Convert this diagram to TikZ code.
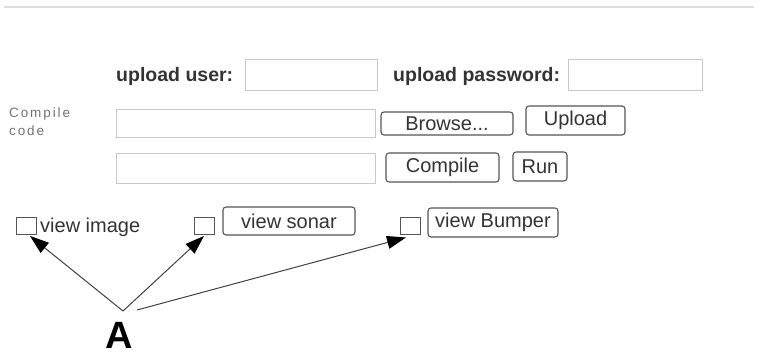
\documentclass[tikz,border=0pt]{standalone}
\usepackage{fontspec}
\setmainfont{Liberation Sans}
\newfontfamily\spacedfont[LetterSpace=14]{Liberation Sans}
\usetikzlibrary{arrows.meta}
\definecolor{fieldgray}{HTML}{C8C8C8}
\definecolor{btngray}{HTML}{555555}
\definecolor{txtgray}{HTML}{333333}
\tikzset{
  field/.style={draw=fieldgray, line width=0.9pt, fill=white, inner sep=0pt},
  btn/.style={draw=btngray, line width=1.1pt, rounded corners=3pt, inner sep=0pt,
    text=txtgray, font=\fontsize{20}{22}\selectfont},
  chk/.style={draw=btngray, line width=0.9pt, inner sep=0pt, minimum width=20pt, minimum height=17pt},
  lbl/.style={inner sep=0pt, text=txtgray, font=\fontsize{19.5}{22}\selectfont\bfseries},
  plain/.style={inner sep=0pt, text=txtgray, font=\fontsize{20}{22}\selectfont},
  pointer/.style={draw=black!75, line width=1pt,
    -{Triangle[length=19pt,width=13pt,color=black,fill=black]}}
}
\begin{document}
\begin{tikzpicture}[x=1pt,y=-1pt]
  \useasboundingbox (0,0) rectangle (758,356);
  % page rule at the top
  \draw[black!13, line width=2pt] (4,7) -- (754,7);

  % login row
  \node[lbl, anchor=west] (userlbl) at (116,76) {upload user:};
  \node[field, minimum width=132pt, minimum height=31pt] (userbox) at (311,75) {};
  \node[lbl, anchor=west] (passlbl) at (393,76) {upload password:};
  \node[field, minimum width=134pt, minimum height=31pt] (passbox) at (635,75) {};

  % compile code rows
  \node[inner sep=0pt, align=left, anchor=west, text=black!55,
        font=\fontsize{13.5}{18}\selectfont\spacedfont] (cclbl) at (9,122) {Compile\\code};
  \node[field, minimum width=259pt, minimum height=28pt] (srcbox) at (245.5,123.5) {};
  \node[btn, minimum width=132pt, minimum height=23pt] (browse) at (447,123.5) {Browse...};
  \node[btn, minimum width=99pt, minimum height=29pt] (upload) at (575.5,120.5) {Upload};
  \node[field, minimum width=259pt, minimum height=30pt] (binbox) at (245.5,168) {};
  \node[btn, minimum width=113pt, minimum height=29pt] (compile) at (442.5,167.5) {Compile};
  \node[btn, minimum width=54pt, minimum height=29pt] (run) at (540,166.5) {Run};

  % view options
  \node[chk] (cimage) at (26,226) {};
  \node[plain, anchor=west] (timage) at (40,227) {view image};
  \node[chk] (csonar) at (204,226) {};
  \node[btn, minimum width=132pt, minimum height=28pt] (bsonar) at (289,221) {view sonar};
  \node[chk] (cbumper) at (410,225.5) {};
  \node[btn, minimum width=130pt, minimum height=29pt, inner xsep=0pt] (bbumper) at (493,222.5) {view Bumper};

  % callout
  \node[inner sep=0pt, anchor=base, font=\fontsize{38}{40}\selectfont\bfseries] (A) at (119,348) {A};
  \coordinate (fork) at (123,311);
  \coordinate (fork2) at (137,310);
  \draw[pointer] (fork) -- ([xshift=4pt,yshift=-1pt]cimage.south);
  \draw[pointer] (fork) -- ([yshift=-1pt]csonar.south);
  \draw[pointer] (fork2) -- ([xshift=-4pt,yshift=-3pt]cbumper.south);
\end{tikzpicture}
\end{document}
